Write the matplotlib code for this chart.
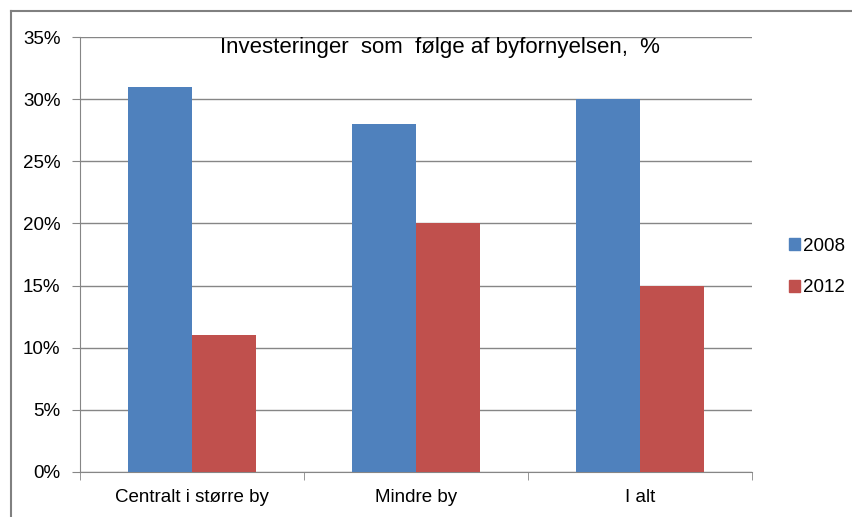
import matplotlib
matplotlib.use("Agg")
import matplotlib.pyplot as plt
from matplotlib.lines import Line2D
from matplotlib.patches import Patch
from matplotlib.ticker import MultipleLocator, FuncFormatter, FixedLocator

plt.rcParams['font.family'] = ['Liberation Sans', 'DejaVu Sans']

categories = ["Centralt i større by", "Mindre by", "I alt"]
years = ["2008", "2012"]
v2008 = [31, 28, 30]
v2012 = [11, 20, 15]
colors = ["#4F81BD", "#C0504D"]

W, H = 853, 517
fig = plt.figure(figsize=(W / 100, H / 100), dpi=100)
ax = fig.add_axes([80 / W, 1 - 472 / H, (752 - 80) / W, (472 - 37) / H])

x = list(range(len(categories)))
bw = 64 / 224
ax.bar([i - bw / 2 for i in x], v2008, width=bw, color=colors[0], zorder=3)
ax.bar([i + bw / 2 for i in x], v2012, width=bw, color=colors[1], zorder=3)

ax.set_xlim(-0.5, 2.5)
ax.set_ylim(0, 35)
ax.yaxis.set_major_locator(MultipleLocator(5))
ax.yaxis.set_major_formatter(FuncFormatter(lambda v, p: f"{v:.0f}%"))
ax.grid(axis="y", color="#868686", linewidth=1, zorder=0)

ax.set_xticks(x)
ax.set_xticklabels(categories, fontsize=13.5)
ax.tick_params(axis="x", length=0, pad=12)
ax.xaxis.set_minor_locator(FixedLocator([-0.5, 0.5, 1.5, 2.5]))
ax.tick_params(axis="x", which="minor", length=6, color="#868686")
ax.tick_params(axis="y", labelsize=13.5, length=6, color="#868686", pad=8)

for s in ["top", "right"]:
    ax.spines[s].set_visible(False)
for s in ["left", "bottom"]:
    ax.spines[s].set_color("#868686")

ax.text(0.536, 0.977, "Investeringer  som  følge af byfornyelsen,  %",
        transform=ax.transAxes, ha="center", va="center", fontsize=16)

handles = [Patch(color=c, label=y) for c, y in zip(colors, years)]
fig.legend(handles=handles, loc="center left", bbox_to_anchor=(772 / W, 1 - 267 / H),
           frameon=False, fontsize=13.5, handlelength=0.6, handleheight=0.6,
           handletextpad=0.15, labelspacing=1.3)

# outer chart frame (top and left edges visible)
fig.add_artist(Line2D([11 / W, 11 / W], [0, 1 - 11 / H], transform=fig.transFigure,
                      color="#808080", linewidth=1.5))
fig.add_artist(Line2D([11 / W, 1], [1 - 11 / H, 1 - 11 / H], transform=fig.transFigure,
                      color="#808080", linewidth=1.5))

fig.savefig("out.png", dpi=100)
